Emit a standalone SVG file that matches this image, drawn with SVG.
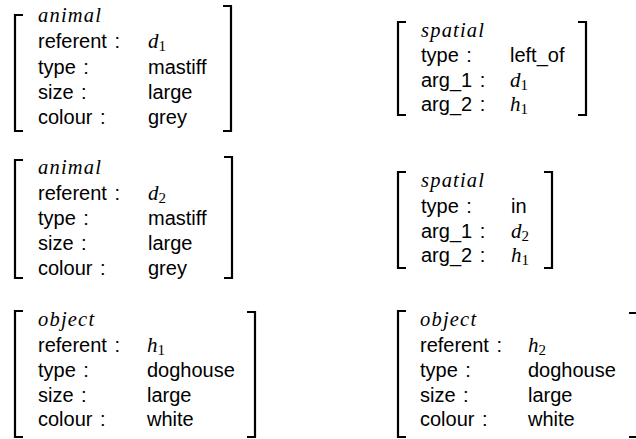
<svg xmlns="http://www.w3.org/2000/svg" width="636" height="439" viewBox="0 0 636 439">
  <style>
    .br { fill: none; stroke: #000; stroke-width: 2.2; stroke-linecap: butt; stroke-linejoin: miter; }
    .t { font-family: "Liberation Sans", Arial, sans-serif; font-size: 20px; word-spacing: 2px; fill: #000; }
    .m { font-family: "Liberation Serif", "Times New Roman", serif; font-style: italic; font-size: 20.5px; letter-spacing: 1.2px; fill: #000; }
    .v { font-family: "Liberation Serif", "Times New Roman", serif; font-style: italic; font-size: 21px; fill: #000; }
    .s { font-family: "Liberation Serif", "Times New Roman", serif; font-style: normal; font-size: 15px; }
  </style>
  <rect width="636" height="439" fill="#fff"/>

  <!-- animal d1 -->
  <g id="animal-d1">
    <path class="br" d="M23,15 H15 V131 H23"/>
    <path class="br" d="M223,6 H231 V131 H223"/>
    <text class="m" x="38" y="22">animal</text>
    <text class="t" x="38" y="48">referent :</text>
    <text class="v" x="148" y="48">d<tspan class="s" dy="3">1</tspan></text>
    <text class="t" x="38" y="74">type :</text>
    <text class="t" x="148" y="74">mastiff</text>
    <text class="t" x="38" y="99">size :</text>
    <text class="t" x="148" y="99">large</text>
    <text class="t" x="38" y="124">colour :</text>
    <text class="t" x="148" y="124">grey</text>
  </g>

  <!-- spatial left_of -->
  <g id="spatial-left-of">
    <path class="br" d="M406,22 H398 V115 H406"/>
    <path class="br" d="M578,22 H586 V115 H578"/>
    <text class="m" x="421" y="37">spatial</text>
    <text class="t" x="421" y="62">type :</text>
    <text class="t" x="510" y="62">left_of</text>
    <text class="t" x="421" y="87">arg_1 :</text>
    <text class="v" x="510" y="87">d<tspan class="s" dy="3">1</tspan></text>
    <text class="t" x="421" y="111">arg_2 :</text>
    <text class="v" x="510" y="111">h<tspan class="s" dy="3">1</tspan></text>
  </g>

  <!-- animal d2 -->
  <g id="animal-d2">
    <path class="br" d="M23,160 H15 V278 H23"/>
    <path class="br" d="M224,157 H232 V278 H224"/>
    <text class="m" x="38" y="174">animal</text>
    <text class="t" x="38" y="200">referent :</text>
    <text class="v" x="148" y="200">d<tspan class="s" dy="3">2</tspan></text>
    <text class="t" x="38" y="225">type :</text>
    <text class="t" x="148" y="225">mastiff</text>
    <text class="t" x="38" y="250">size :</text>
    <text class="t" x="148" y="250">large</text>
    <text class="t" x="38" y="275">colour :</text>
    <text class="t" x="148" y="275">grey</text>
  </g>

  <!-- spatial in -->
  <g id="spatial-in">
    <path class="br" d="M406,172 H398 V268 H406"/>
    <path class="br" d="M544,172 H552 V268 H544"/>
    <text class="m" x="421" y="187">spatial</text>
    <text class="t" x="421" y="213">type :</text>
    <text class="t" x="511" y="213">in</text>
    <text class="t" x="421" y="238">arg_1 :</text>
    <text class="v" x="511" y="238">d<tspan class="s" dy="3">2</tspan></text>
    <text class="t" x="421" y="262">arg_2 :</text>
    <text class="v" x="511" y="262">h<tspan class="s" dy="3">1</tspan></text>
  </g>

  <!-- object h1 -->
  <g id="object-h1">
    <path class="br" d="M23,311 H15 V437 H23"/>
    <path class="br" d="M247,312 H255 V437 H247"/>
    <text class="m" x="38" y="326">object</text>
    <text class="t" x="38" y="352">referent :</text>
    <text class="v" x="147" y="352">h<tspan class="s" dy="3">1</tspan></text>
    <text class="t" x="38" y="377">type :</text>
    <text class="t" x="147" y="377">doghouse</text>
    <text class="t" x="38" y="402">size :</text>
    <text class="t" x="147" y="402">large</text>
    <text class="t" x="38" y="426">colour :</text>
    <text class="t" x="147" y="426">white</text>
  </g>

  <!-- object h2 (right bracket runs past the edge) -->
  <g id="object-h2">
    <path class="br" d="M406,311 H398 V437 H406"/>
    <path class="br" d="M629,313 H638 V437 H629"/>
    <text class="m" x="420" y="326">object</text>
    <text class="t" x="420" y="352">referent :</text>
    <text class="v" x="528" y="352">h<tspan class="s" dy="3">2</tspan></text>
    <text class="t" x="420" y="377">type :</text>
    <text class="t" x="528" y="377">doghouse</text>
    <text class="t" x="420" y="402">size :</text>
    <text class="t" x="528" y="402">large</text>
    <text class="t" x="420" y="426">colour :</text>
    <text class="t" x="528" y="426">white</text>
  </g>

  <g id="connectors"/>
</svg>
